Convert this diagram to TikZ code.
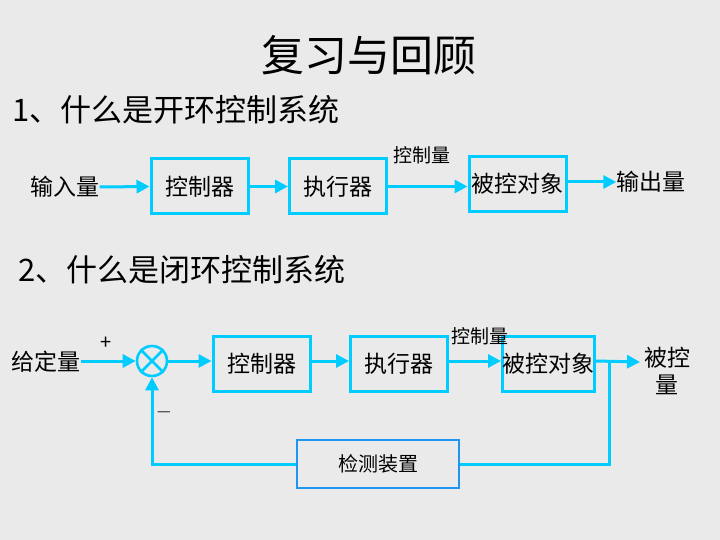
\documentclass[tikz,border=0pt]{standalone}
\usepackage{fontspec}
\setmainfont{Noto Sans CJK SC}
\usepackage{tikz}
\usetikzlibrary{arrows.meta,positioning}
\definecolor{lineblue}{RGB}{0,204,255}
\definecolor{boxblue}{RGB}{30,150,240}
\definecolor{bggray}{RGB}{234,234,234}
\tikzset{
  blk/.style={draw=lineblue,line width=3pt,minimum width=97pt,minimum height=55pt,inner sep=0pt,font=\fontsize{23}{25}\selectfont},
  sig/.style={lineblue,line width=3pt,-{Triangle[length=13pt,width=13pt]}},
  wire/.style={lineblue,line width=3pt},
  lbl/.style={font=\fontsize{23}{25}\selectfont,inner sep=0pt},
  small/.style={font=\fontsize{19}{21}\selectfont,inner sep=0pt}
}
\begin{document}
\begin{tikzpicture}[x=1pt,y=-1pt]
\useasboundingbox[fill=bggray](0,0)rectangle(720,540);
% headings
\node[font=\fontsize{43}{46}\selectfont] (title) at (369,55){复习与回顾};
\node[anchor=west,font=\fontsize{31}{34}\selectfont,inner sep=0pt] (q1) at (12,110){1、什么是开环控制系统};
\node[anchor=west,font=\fontsize{31}{34}\selectfont,inner sep=0pt] (q2) at (18,270){2、什么是闭环控制系统};
% open loop
\node[lbl] (in1) at (65,187){输入量};
\node[blk] (ctl1) at (199.5,186.5){控制器};
\node[blk] (act1) at (338,186.5){执行器};
\node[blk] (obj1) at (517.5,184){被控对象};
\node[lbl] (out1) at (651,182){输出量};
\node[small] (u1) at (422,155){控制量};
\draw[sig](in1.east)--(ctl1.west);
\draw[sig](ctl1.east)--(act1.west);
\draw[sig](act1.east)--(act1.east-|obj1.west);
\draw[sig](obj1.east|-out1)--(out1.west);
% closed loop
\node[lbl] (ref) at (46,362){给定量};
\node[draw=lineblue,line width=2.6pt,circle,minimum size=30pt,inner sep=0pt] (sum) at (152,361){};
\draw[lineblue,line width=2.6pt](sum.45)--(sum.225)(sum.135)--(sum.315);
\node[font=\fontsize{20}{22}\selectfont] (plus) at (106,343){+};
\node[font=\fontsize{20}{22}\selectfont] (minus) at (164,412){$-$};
\node[blk] (ctl2) at (261.5,364){控制器};
\node[blk] (act2) at (399,364){执行器};
\node[blk,minimum width=92pt] (obj2) at (548.5,364){被控对象};
\node[small] (u2) at (480,336){控制量};
\node[lbl,align=center] (out2) at (667,371){被控\\[2pt]量};
\node[draw=boxblue,line width=2.6pt,minimum width=162pt,minimum height=48pt,font=\fontsize{20}{22}\selectfont] (sens) at (378,464){检测装置};
\coordinate (tap) at (609,362);
\draw[sig](ref.east|-sum)--(sum.west);
\draw[sig](sum.east)--(ctl2.west|-sum);
\draw[sig](ctl2.east|-sum)--(act2.west|-sum);
\draw[sig](act2.east|-sum)--(obj2.west|-sum);
\draw[sig](obj2.east|-sum)--(640,362);
\draw[wire](tap)|-(sens.east);
\draw[sig](sens.west)-|(sum.south);
\end{tikzpicture}
\end{document}
